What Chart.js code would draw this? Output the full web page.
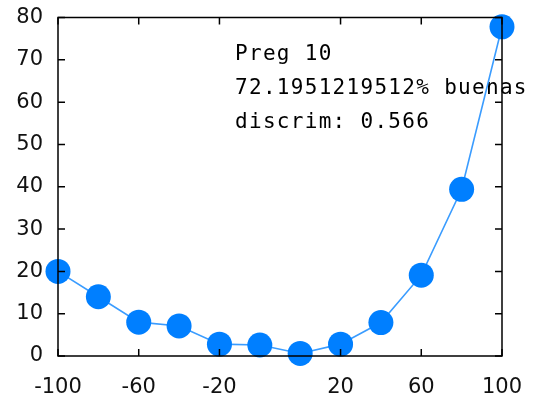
<!DOCTYPE html>
<html>
<head>
<meta charset="utf-8">
<script src="https://cdn.jsdelivr.net/npm/chart.js@4"></script>
<style>
html,body{margin:0;padding:0;background:#fff;}
#wrap{width:534px;height:400px;}
</style>
</head>
<body>
<div id="wrap"><canvas id="c" width="534" height="400"></canvas></div>
<script>
// ---- data ----
const xIndex = [0, 1, 2, 3, 4, 5, 6, 7, 8, 9, 10, 11];
const yValues = [20, 14, 8, 7.1, 2.8, 2.6, 0.6, 2.8, 7.9, 19.1, 39.4, 77.8];
const xTickPos = [0, 2, 4, 7, 9, 11];
const xTickLabels = ['-100', '-60', '-20', '20', '60', '100'];
const yTicks = [0, 10, 20, 30, 40, 50, 60, 70, 80];
const noteLines = ['Preg 10', '72.1951219512% buenas', 'discrim: 0.566'];

const points = xIndex.map((x, i) => ({ x: x, y: yValues[i] }));

const notePlugin = {
  id: 'note',
  beforeDatasetsDraw(chart) {
    const ctx = chart.ctx;
    ctx.save();
    ctx.font = '21px "DejaVu Sans Mono", monospace';
    if ('letterSpacing' in ctx) ctx.letterSpacing = '1.3px';
    ctx.fillStyle = '#000';
    ctx.textAlign = 'left';
    ctx.textBaseline = 'alphabetic';
    const x0 = 235, y0 = 60, lh = 33.8;
    noteLines.forEach((t, i) => ctx.fillText(t, x0, y0 + i * lh));
    ctx.restore();
  },
  afterDatasetsDraw(chart) {
    const ctx = chart.ctx;
    const a = chart.chartArea;
    const xs = chart.scales.x, ys = chart.scales.y;
    const tl = 7;
    ctx.save();
    ctx.strokeStyle = '#000';
    ctx.lineWidth = 1.5;
    ctx.beginPath();
    ctx.rect(a.left, a.top, a.right - a.left, a.bottom - a.top);
    ctx.stroke();
    ctx.beginPath();
    yTicks.forEach(v => {
      const py = ys.getPixelForValue(v);
      ctx.moveTo(a.left, py); ctx.lineTo(a.left + tl, py);
      ctx.moveTo(a.right, py); ctx.lineTo(a.right - tl, py);
    });
    xTickPos.forEach(v => {
      const px = xs.getPixelForValue(v);
      ctx.moveTo(px, a.bottom); ctx.lineTo(px, a.bottom - tl);
      ctx.moveTo(px, a.top); ctx.lineTo(px, a.top + tl);
    });
    ctx.stroke();
    ctx.restore();
  }
};

new Chart(document.getElementById('c'), {
  type: 'line',
  data: {
    datasets: [{
      data: points,
      borderColor: '#3a9cff',
      borderWidth: 1.6,
      pointRadius: 12.5,
      pointHoverRadius: 12.5,
      pointBackgroundColor: '#007fff',
      pointBorderColor: '#007fff',
      pointBorderWidth: 0,
      tension: 0,
      clip: false
    }]
  },
  options: {
    responsive: false,
    animation: false,
    events: [],
    layout: { padding: { top: 17.5, right: 32, left: 0, bottom: 0 } },
    plugins: { legend: { display: false }, tooltip: { enabled: false } },
    scales: {
      x: {
        type: 'linear',
        min: 0, max: 11,
        grid: { display: false, drawTicks: false },
        border: { display: false },
        afterBuildTicks: s => { s.ticks = xTickPos.map(v => ({ value: v })); },
        afterFit: s => { s.height = 44; s.paddingLeft = 0; s.paddingRight = 0; },
        ticks: {
          autoSkip: false,
          maxRotation: 0,
          padding: 19,
          color: '#111',
          font: { family: '"DejaVu Sans", sans-serif', size: 21 },
          callback: v => { const i = xTickPos.indexOf(v); return i >= 0 ? xTickLabels[i] : ''; }
        }
      },
      y: {
        type: 'linear',
        min: 0, max: 80,
        grid: { display: false, drawTicks: false },
        border: { display: false },
        afterBuildTicks: s => { s.ticks = yTicks.map(v => ({ value: v })); },
        afterFit: s => { s.width = 58; s.paddingTop = 0; s.paddingBottom = 0; },
        ticks: {
          autoSkip: false,
          padding: 15,
          color: '#111',
          font: { family: '"DejaVu Sans", sans-serif', size: 21 }
        }
      }
    }
  },
  plugins: [notePlugin]
});
</script>
</body>
</html>
